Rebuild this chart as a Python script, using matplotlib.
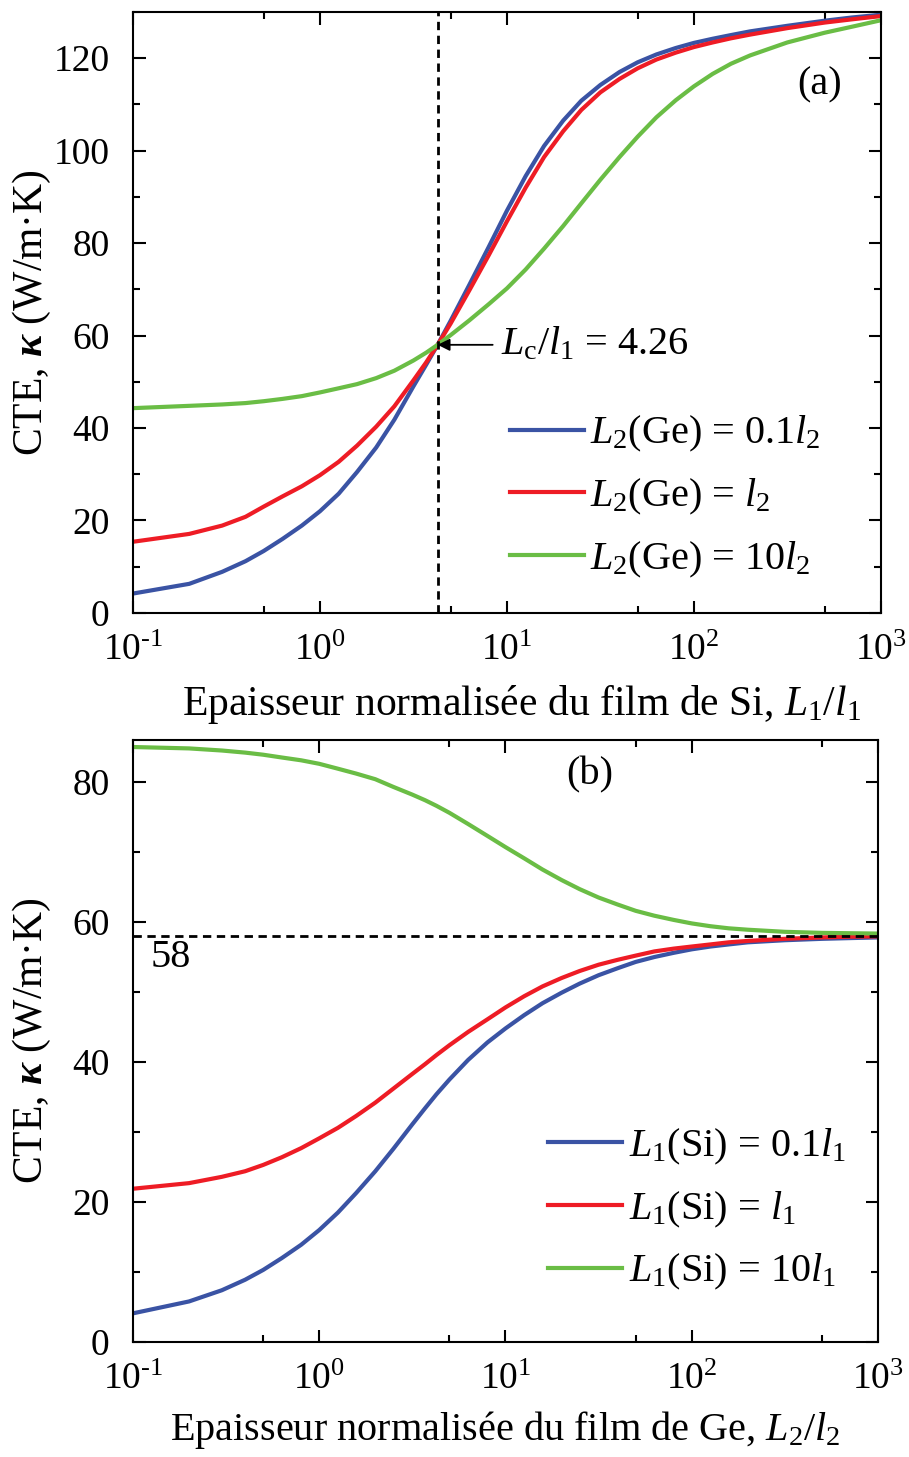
import numpy as np
import matplotlib.pyplot as plt
from matplotlib.ticker import LogLocator, MultipleLocator, NullFormatter, FuncFormatter

plt.rcParams['font.family'] = 'Liberation Serif'
plt.rcParams['mathtext.fontset'] = 'custom'
plt.rcParams['mathtext.rm'] = 'Liberation Serif'
plt.rcParams['mathtext.it'] = 'Liberation Serif:italic'
plt.rcParams['mathtext.bf'] = 'Liberation Serif:bold:italic'

# abscisse commune (epaisseur normalisee)
xs = [0.1, 0.2, 0.3, 0.4, 0.5, 0.63, 0.8, 1, 1.26, 1.58, 2, 2.5, 3.16, 3.7, 4.26, 5, 6.3, 8,
      10, 12.6, 15.8, 20, 25, 31.6, 40, 50, 63, 80, 100, 126, 158, 200, 316, 500, 700, 1000]

# (a) CTE vs L1/l1 pour trois epaisseurs de Ge
a_blue = [4.2, 6.3, 8.9, 11.2, 13.4, 16.0, 18.9, 22.0, 25.8, 30.5, 35.8, 41.8, 49.0, 53.7, 58, 63.2, 71.0, 79.2,
          87.0, 94.5, 101.0, 106.5, 110.8, 114.2, 117.0, 119.1, 120.8, 122.2, 123.3, 124.2, 125.0, 125.8, 127.0, 128.1, 128.8, 129.4]
a_red = [15.4, 17.1, 18.9, 20.8, 23.0, 25.2, 27.4, 29.8, 32.7, 36.2, 40.3, 44.7, 50.3, 54.2, 58, 62.6, 69.8, 77.4,
         84.7, 92.0, 98.6, 104.2, 108.8, 112.6, 115.5, 117.8, 119.7, 121.2, 122.4, 123.4, 124.3, 125.1, 126.5, 127.7, 128.4, 129.1]
a_green = [44.3, 44.8, 45.1, 45.4, 45.8, 46.3, 46.9, 47.7, 48.6, 49.5, 50.8, 52.4, 54.6, 56.3, 58, 60.1, 63.3, 66.8,
           70.2, 74.3, 78.8, 83.7, 88.6, 93.7, 98.6, 103.0, 107.2, 110.9, 113.9, 116.6, 118.8, 120.6, 123.4, 125.5, 126.8, 128.2]

# (b) CTE vs L2/l2 pour trois epaisseurs de Si
b_blue = [4.1, 5.8, 7.4, 8.9, 10.3, 12.0, 13.9, 16.0, 18.5, 21.3, 24.4, 27.6, 31.1, 33.4, 35.4, 37.5, 40.3, 42.8,
          44.8, 46.7, 48.4, 49.9, 51.2, 52.4, 53.4, 54.3, 55.0, 55.6, 56.1, 56.5, 56.8, 57.1, 57.4, 57.6, 57.7, 57.8]
b_red = [21.9, 22.7, 23.6, 24.4, 25.3, 26.4, 27.7, 29.1, 30.6, 32.3, 34.2, 36.2, 38.3, 39.7, 41.0, 42.4, 44.3, 46.1,
         47.8, 49.4, 50.8, 52.0, 53.0, 53.9, 54.6, 55.2, 55.8, 56.2, 56.5, 56.8, 57.1, 57.3, 57.6, 57.8, 57.9, 57.95]
b_green = [85.0, 84.8, 84.5, 84.2, 83.9, 83.5, 83.1, 82.6, 81.9, 81.2, 80.4, 79.3, 78.2, 77.4, 76.6, 75.6, 74.0, 72.3,
           70.7, 69.1, 67.5, 66.0, 64.7, 63.5, 62.5, 61.6, 60.9, 60.3, 59.8, 59.4, 59.1, 58.9, 58.6, 58.45, 58.4, 58.35]

labels_a = [r'$L_2$(Ge) = 0.1$l_2$', r'$L_2$(Ge) = $l_2$', r'$L_2$(Ge) = 10$l_2$']
labels_b = [r'$L_1$(Si) = 0.1$l_1$', r'$L_1$(Si) = $l_1$', r'$L_1$(Si) = 10$l_1$']
colors = ['#3A53A4', '#EE1C25', '#6ABD45']
Lc = 4.26
k_lim = 58

fig = plt.figure(figsize=(9.09, 14.57), dpi=100)
ax1 = fig.add_axes([0.1463, 0.5793, 0.8227, 0.4125])
ax2 = fig.add_axes([0.1463, 0.0789, 0.8196, 0.4132])

ylab = r'CTE, $\mathbf{\kappa}$ (W/m·K)'


def puissance(v, pos):
    e = int(round(np.log10(v)))
    return r'$10^{\text{%d}}$' % e


def style(ax, ymax, ystep):
    ax.set_xscale('log')
    ax.set_xlim(0.1, 1000)
    ax.set_ylim(0, ymax)
    ax.xaxis.set_major_locator(LogLocator(base=10, numticks=10))
    ax.xaxis.set_major_formatter(FuncFormatter(puissance))
    ax.xaxis.set_minor_locator(LogLocator(base=10, subs=[5], numticks=10))
    ax.xaxis.set_minor_formatter(NullFormatter())
    ax.yaxis.set_major_locator(MultipleLocator(ystep))
    ax.yaxis.set_minor_locator(MultipleLocator(ystep / 2))
    ax.tick_params(which='both', direction='in', top=True, right=True, width=1.5, labelsize=27)
    ax.tick_params(which='major', length=9)
    ax.tick_params(axis='x', which='major', pad=15)
    ax.tick_params(axis='y', which='major', pad=17)
    ax.tick_params(which='minor', length=5)
    for s in ax.spines.values():
        s.set_linewidth(1.5)

# --- (a)
for y, c, lab in zip([a_blue, a_red, a_green], colors, labels_a):
    ax1.plot(xs, y, color=c, lw=3, label=lab)
ax1.axvline(Lc, color='k', ls=(0, (3, 2)), lw=2)
ax1.annotate(r'$L_\mathrm{c}/l_1$ = 4.26', xy=(Lc, k_lim), xytext=(9.3, k_lim),
             fontsize=29, va='center', ha='left',
             arrowprops=dict(arrowstyle='-|>', color='k', lw=1.3, shrinkA=4, shrinkB=0,
                             mutation_scale=18))
ax1.text(0.918, 0.878, '(a)', transform=ax1.transAxes, fontsize=29, ha='center', va='center')
style(ax1, 130, 20)
ax1.set_xlabel(r'Epaisseur normalisée du film de Si, $L_1/l_1$', fontsize=30)
ax1.xaxis.set_label_coords(0.519, -0.117)
ax1.set_ylabel(ylab, fontsize=30, va='center')
ax1.yaxis.set_label_coords(-0.135, 0.5)
ax1.legend(loc='center left', bbox_to_anchor=(0.504, 0.193), frameon=False, fontsize=29,
           borderpad=0, borderaxespad=0, handlelength=1.85, handletextpad=0.15, labelspacing=0.56)

# --- (b)
for y, c, lab in zip([b_blue, b_red, b_green], colors, labels_b):
    ax2.plot(xs, y, color=c, lw=3, label=lab)
ax2.axhline(k_lim, color='k', ls=(0, (3, 2)), lw=2)
ax2.text(0.125, 54.9, '58', fontsize=29, ha='left', va='center')
ax2.text(0.613, 0.942, '(b)', transform=ax2.transAxes, fontsize=29, ha='center', va='center')
style(ax2, 86, 20)
ax2.set_xlabel(r'Epaisseur normalisée du film de Ge, $L_2/l_2$', fontsize=29)
ax2.xaxis.set_label_coords(0.5, -0.112)
ax2.set_ylabel(ylab, fontsize=30, va='center')
ax2.yaxis.set_label_coords(-0.1356, 0.5)
ax2.legend(loc='center left', bbox_to_anchor=(0.557, 0.22), frameon=False, fontsize=29,
           borderpad=0, borderaxespad=0, handlelength=1.85, handletextpad=0.15, labelspacing=0.56)

plt.savefig('out.png', dpi=100)
